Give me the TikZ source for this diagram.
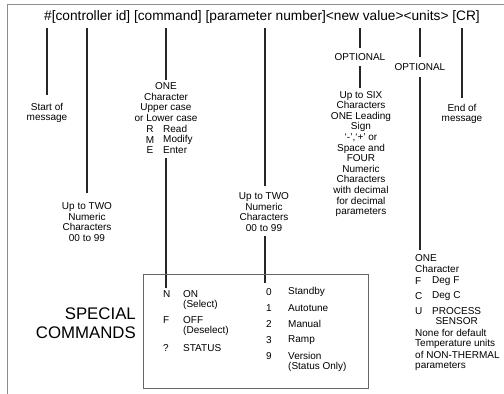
\documentclass[tikz,border=0pt]{standalone}
\usepackage{fontspec}
\setmainfont{Liberation Sans}
\begin{document}
\tikzset{
  conn/.style={line width=1.7pt, draw=black!85},
  frame/.style={draw=black!45, line width=0.8pt},
  lbl/.style={align=center, font=\fontsize{10}{10.6}\selectfont, inner sep=0pt},
  txt/.style={anchor=west, font=\fontsize{10}{10.6}\selectfont, inner sep=0pt},
  cmdbox/.style={draw=black!60, line width=0.8pt, minimum width=225pt, minimum height=114pt, inner sep=0pt},
}
\begin{tikzpicture}[x=1pt,y=-1pt]
\useasboundingbox (0,0) rectangle (504,394);
\draw[frame] (7,394) -- (7,4) -- (504,4);
\node[font=\fontsize{13.7}{16}\selectfont, inner sep=0pt] (hdr) at (262,17)
  {\#[controller id] [command] [parameter number]<new value><units> [CR]};

% 1 start of message
\coordinate (a1) at (47,28); \coordinate (a1e) at (47,95);
\node[lbl] (start) at (47,113) {Start of\\message};
\draw[conn] (a1) -- (a1e);

% 2 controller id
\coordinate (a2) at (87,28); \coordinate (a2e) at (87,193);
\node[lbl] (cid) at (87,222) {Up to TWO\\Numeric\\Characters\\00 to 99};
\draw[conn] (a2) -- (a2e);

% 3 command
\coordinate (a3) at (166,28); \coordinate (a3e) at (166,80);
\node[lbl] (cmd) at (166,102) {ONE\\Character\\Upper case\\or Lower case};
\node[txt, anchor=center] (rl) at (150,129) {R};
\node[txt] (rw) at (163,129) {Read};
\node[txt, anchor=center] (ml) at (150,140) {M};
\node[txt] (mw) at (163,140) {Modify};
\node[txt, anchor=center] (el) at (150,150) {E};
\node[txt] (ew) at (163,150) {Enter};
\coordinate (b3) at (166,158); \coordinate (b3e) at (166,288);
\draw[conn] (a3) -- (a3e);
\draw[conn] (b3) -- (b3e);

% 4 parameter number
\coordinate (a4) at (265,28); \coordinate (a4e) at (265,186);
\node[lbl] (pn) at (264,212) {Up to TWO\\Numeric\\Characters\\00 to 99};
\coordinate (b4) at (265,236); \coordinate (b4e) at (265,283);
\draw[conn] (a4) -- (a4e);
\draw[conn] (b4) -- (b4e);

% 5 new value
\coordinate (a5) at (360,28); \coordinate (a5e) at (360,48);
\node[lbl] (opt1) at (360,57) {OPTIONAL};
\coordinate (b5) at (360,66); \coordinate (b5e) at (360,88);
\node[lbl] (nv) at (361,154) {Up to SIX\\Characters\\ONE Leading\\Sign\\`-',`+' or\\Space and\\FOUR\\Numeric\\Characters\\with decimal\\for decimal\\parameters};
\draw[conn] (a5) -- (a5e);
\draw[conn] (b5) -- (b5e);

% 6 units
\coordinate (a6) at (420,28); \coordinate (a6e) at (420,57);
\node[lbl] (opt2) at (420,67) {OPTIONAL};
\coordinate (b6) at (420,77); \coordinate (b6e) at (420,250);
\draw[conn] (a6) -- (a6e);
\draw[conn] (b6) -- (b6e);
\node[txt] (u1) at (415,258) {ONE};
\node[txt] (u2) at (415,269) {Character};
\node[txt] (uf) at (415,281) {F};
\node[txt] (ufw) at (432,281) {Deg F};
\node[txt] (uc) at (415,296) {C};
\node[txt] (ucw) at (432,296) {Deg C};
\node[txt] (uu) at (415,311) {U};
\node[txt] (uuw) at (432,311) {PROCESS};
\node[lbl] (uus) at (uuw.center |- 0,321) {SENSOR};
\node[txt] (u3) at (415,333) {None for default};
\node[txt] (u4) at (415,344) {Temperature units};
\node[txt] (u5) at (415,355) {of NON-THERMAL};
\node[txt] (u6) at (415,366) {parameters};

% 7 end of message
\coordinate (a7) at (462,28); \coordinate (a7e) at (462,98);
\node[lbl] (endm) at (462,114) {End of\\message};
\draw[conn] (a7) -- (a7e);

% special commands box
\node[cmdbox] (box) at (255.5,331) {};
\node[align=right, anchor=east, font=\fontsize{16.8}{18.5}\selectfont, inner sep=0pt] (sc) at (136,323) {SPECIAL\\COMMANDS};
\node[txt] (n1) at (163,294) {N};
\node[txt] (n1w) at (183,294) {ON};
\node[txt] (n1s) at (183,305) {(Select)};
\node[txt] (f1) at (163,320) {F};
\node[txt] (f1w) at (183,320) {OFF};
\node[txt] (f1s) at (183,331) {(Deselect)};
\node[txt] (q1) at (163,348) {?};
\node[txt] (q1w) at (183,348) {STATUS};
\node[txt] (z0) at (266,292) {0};
\node[txt] (z0w) at (288,292) {Standby};
\node[txt] (z1) at (266,308) {1};
\node[txt] (z1w) at (288,308) {Autotune};
\node[txt] (z2) at (266,324) {2};
\node[txt] (z2w) at (288,324) {Manual};
\node[txt] (z3) at (266,340) {3};
\node[txt] (z3w) at (288,340) {Ramp};
\node[txt] (z9) at (266,356) {9};
\node[txt] (z9w) at (288,356) {Version};
\node[txt] (z9s) at (288,367) {(Status Only)};
\end{tikzpicture}
\end{document}
